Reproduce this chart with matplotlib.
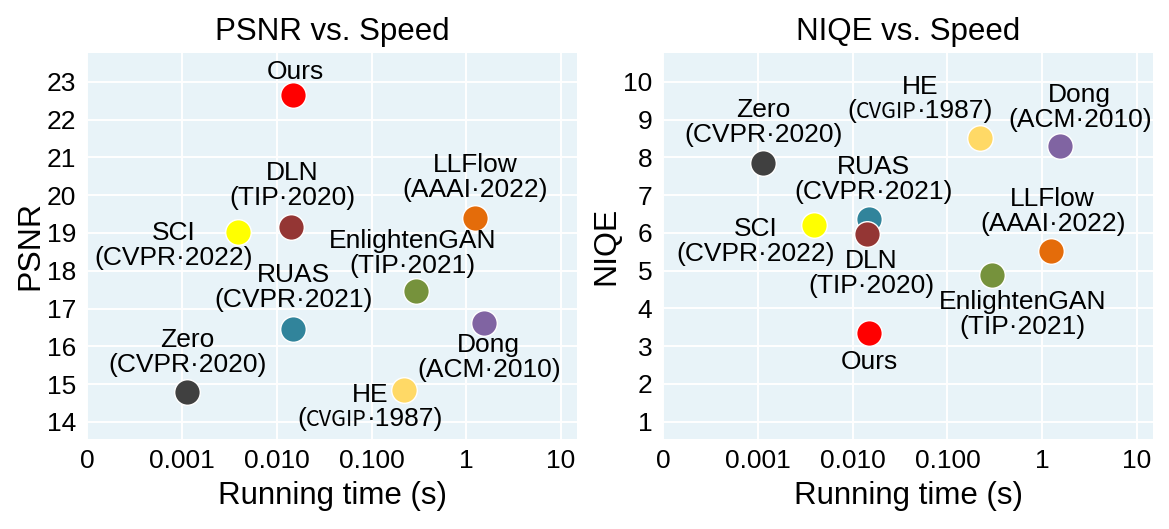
import numpy as np
import matplotlib
matplotlib.use("Agg")
import matplotlib.pyplot as plt
from matplotlib.ticker import FixedLocator, FixedFormatter
from matplotlib.offsetbox import TextArea, HPacker, VPacker, AnnotationBbox

plt.rcParams['font.family'] = ['Liberation Sans', 'DejaVu Sans']

# methods and measured values
methods = ["Ours", "DLN", "SCI", "LLFlow", "EnlightenGAN", "RUAS", "Dong", "Zero", "HE"]
venues = [None, "TIP·2020", "CVPR·2022", "AAAI·2022", "TIP·2021", "CVPR·2021", "ACM·2010", "CVPR·2020", "CVGIP·1987"]
run_time = [0.0147, 0.0142, 0.0039, 1.23, 0.298, 0.0150, 1.53, 0.00114, 0.222]
psnr = [22.65, 19.15, 19.02, 19.40, 17.47, 16.47, 16.63, 14.78, 14.85]
niqe = [3.35, 5.98, 6.20, 5.53, 4.89, 6.37, 8.31, 7.85, 8.50]
colors = ["#ff0000", "#943634", "#ffff00", "#e46c0a", "#76923c", "#31849b", "#8064a2", "#404040", "#ffd966"]

# label offsets (pixels, from the dot)
psnr_offsets = [(3, 23), (1, 42), (-64, -13), (0, 40), (-4, 37), (0, 41), (5, -35), (0, 40), (-34, -17)]
niqe_offsets = [(1, -29), (4, -40), (-58, -16), (2, 39), (30, -40), (4, 39), (20, 38), (0, 40), (-60, 39)]

xticks = [1e-4, 1e-3, 1e-2, 1e-1, 1, 10]
xticklabels = ["0", "0.001", "0.010", "0.100", "1", "10"]

fig = plt.figure(figsize=(11.69, 5.29), dpi=100)
ax1 = fig.add_axes([0.0747, 0.1696, 0.4192, 0.7308])
ax2 = fig.add_axes([0.5674, 0.1696, 0.4192, 0.7308])

# draw order: later points on top (RUAS under DLN on the right panel)
order = [5, 0, 1, 2, 3, 4, 6, 7, 8]


def he_label(ax, xy, off):
    # the CVGIP part is set in a narrower font in the original
    base = dict(fontsize=19, family=['Liberation Sans', 'DejaVu Sans'])
    narrow = dict(fontsize=15.5, family=['Noto Sans CJK SC', 'DejaVu Sans'])
    line1 = TextArea("HE", textprops=base)
    line2 = HPacker(children=[TextArea("(", textprops=base),
                              TextArea("CVGIP", textprops=narrow),
                              TextArea("·1987)", textprops=base)],
                    align="baseline", pad=0, sep=0)
    box = VPacker(children=[line1, line2], align="center", pad=0, sep=0)
    ab = AnnotationBbox(box, xy, xybox=off, boxcoords="offset pixels",
                        frameon=False, box_alignment=(0.5, 0.5), zorder=4)
    ax.add_artist(ab)


def draw(ax, yvals, offsets, title, ylabel, ylim, yticks):
    ax.set_facecolor("#e8f3f8")
    for s in ax.spines.values():
        s.set_visible(False)
    ax.set_xscale("log")
    ax.set_xlim(1e-4, 14.9)
    ax.set_ylim(*ylim)
    ax.xaxis.set_major_locator(FixedLocator(xticks))
    ax.xaxis.set_major_formatter(FixedFormatter(xticklabels))
    ax.xaxis.set_minor_locator(FixedLocator([]))
    ax.set_yticks(yticks)
    ax.grid(True, color="white", linewidth=1.4)
    ax.set_axisbelow(True)
    ax.tick_params(axis="x", length=0, labelsize=19, pad=7)
    ax.tick_params(axis="y", length=0, labelsize=19, pad=8)
    ax.set_title(title, fontsize=22.5, pad=9)
    ax.set_xlabel("Running time (s)", fontsize=22.5, labelpad=6)
    ax.set_ylabel(ylabel, fontsize=23, labelpad=1)
    for i in order:
        ax.scatter(run_time[i], yvals[i], s=340, color=colors[i], edgecolors="white",
                   linewidths=1.0, zorder=3)
        dx, dy = offsets[i]
        if methods[i] == "HE":
            he_label(ax, (run_time[i], yvals[i]), (dx, dy))
            continue
        txt = methods[i] if venues[i] is None else methods[i] + "\n(" + venues[i] + ")"
        ax.annotate(txt, (run_time[i], yvals[i]), xytext=(dx, dy), textcoords="offset pixels",
                    ha="center", va="center", fontsize=19, linespacing=1.05, zorder=4)


draw(ax1, psnr, psnr_offsets, "PSNR vs. Speed", "PSNR", (13.54, 23.77), list(range(14, 24)))
draw(ax2, niqe, niqe_offsets, "NIQE vs. Speed", "NIQE", (0.53, 10.77), list(range(1, 11)))

fig.savefig("out.png", dpi=100)
